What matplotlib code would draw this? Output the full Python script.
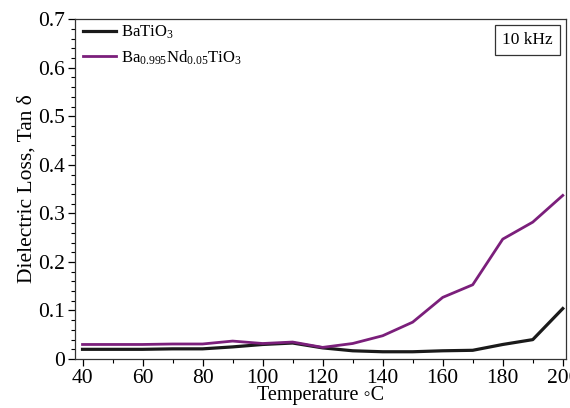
import matplotlib
matplotlib.use("Agg")
import matplotlib.pyplot as plt
from matplotlib.ticker import MultipleLocator

plt.rcParams['font.family'] = ['Liberation Serif', 'DejaVu Serif']
plt.rcParams['mathtext.fontset'] = 'custom'
plt.rcParams['mathtext.rm'] = 'Liberation Serif'
plt.rcParams['mathtext.it'] = 'Liberation Serif:italic'

temperature = [40, 50, 60, 70, 80, 90, 100, 110, 120, 130, 140, 150, 160, 170, 180, 190, 200]
batio3 = [0.020, 0.020, 0.020, 0.021, 0.021, 0.025, 0.030, 0.033, 0.023, 0.017, 0.015,
          0.015, 0.017, 0.018, 0.030, 0.040, 0.104]
ba_nd = [0.030, 0.030, 0.030, 0.031, 0.031, 0.037, 0.032, 0.035, 0.024, 0.032, 0.048,
         0.076, 0.127, 0.153, 0.247, 0.282, 0.337]
labels = [r'BaTiO$_3$', r'Ba$_{0.995}$Nd$_{0.05}$TiO$_3$']
xticks = [40, 60, 80, 100, 120, 140, 160, 180, 200]

fig = plt.figure(figsize=(5.7, 4.08), dpi=100)
ax = fig.add_axes([0.1316, 0.120, 0.861, 0.833])

ax.plot(temperature, batio3, color='#1a1a1a', lw=2.3, label=labels[0])
ax.plot(temperature, ba_nd, color='#7b1f7b', lw=2.0, label=labels[1])

ax.set_xlim(37.5, 201)
ax.set_ylim(0, 0.7)
ax.set_xticks(xticks)
ax.xaxis.set_minor_locator(MultipleLocator(10))
ax.yaxis.set_major_locator(MultipleLocator(0.1))
ax.yaxis.set_minor_locator(MultipleLocator(0.02))
ax.yaxis.set_major_formatter(plt.FuncFormatter(lambda v, p: '0' if abs(v) < 1e-9 else f'{v:.1f}'))
ax.tick_params(which='both', direction='out', top=False, right=False, labelsize=15.5, pad=2)
ax.tick_params(which='major', length=5, width=0.9)
ax.tick_params(which='minor', length=3, width=0.8)
for s in ax.spines.values():
    s.set_linewidth(0.9)
    s.set_color('#333333')

ax.set_xlabel('Temperature \u25e6C', fontsize=14.5, labelpad=-1.5)
ax.set_ylabel('Dielectric Loss, Tan \u03b4', fontsize=15.5, labelpad=1)

ax.legend(loc='upper left', bbox_to_anchor=(0.008, 1.0), frameon=False, fontsize=12,
          handlelength=2.0, handletextpad=0.3, borderaxespad=0.05, borderpad=0.2,
          labelspacing=0.45)

ax.text(0.973, 0.962, '10 kHz', transform=ax.transAxes, ha='right', va='top', fontsize=12.5,
        bbox=dict(boxstyle='square,pad=0.42', fc='white', ec='#333333', lw=0.9))

fig.savefig('out.png', dpi=100)
